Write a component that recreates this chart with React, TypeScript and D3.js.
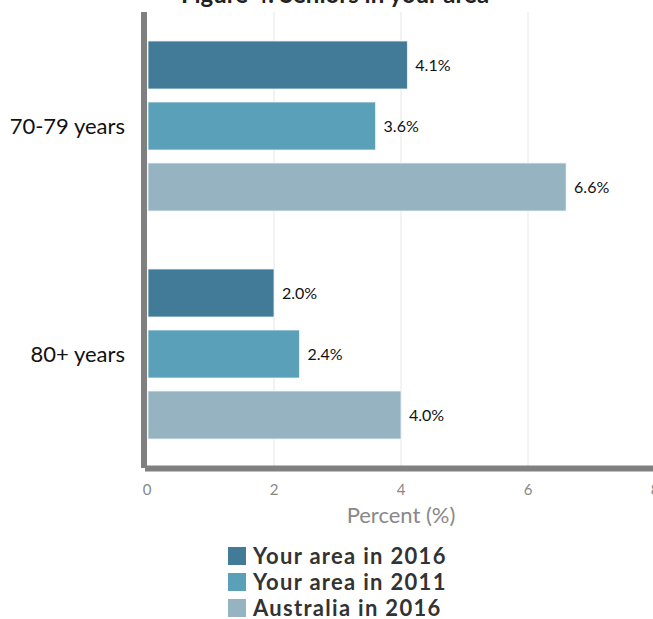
import React, { useEffect, useRef } from "react";
import * as d3 from "d3";

const categories = ["70-79 years", "80+ years"];
const seriesNames = ["Your area in 2016", "Your area in 2011", "Australia in 2016"];
const yourArea2016 = [4.1, 2.0];
const yourArea2011 = [3.6, 2.4];
const australia2016 = [6.6, 4.0];
const xTicks = [0, 2, 4, 6, 8];
const colors = ["#427b97", "#5ba0b9", "#95b3c1"];

export default function App() {
  const svgRef = useRef<SVGSVGElement | null>(null);
  const width = 653;
  const height = 619;

  useEffect(() => {
    if (!svgRef.current) return;
    const svg = d3.select(svgRef.current);
    svg.selectAll("*").remove();

    const font = "Lato, 'Open Sans', sans-serif";
    const series = [yourArea2016, yourArea2011, australia2016];

    const x = d3.scaleLinear().domain([0, 8]).range([147, 655]);
    const y0 = d3.scaleBand<string>().domain(categories).range([41, 439]).paddingInner(58 / 228).paddingOuter(0);
    const y1 = d3.scaleBand<number>().domain([0, 1, 2]).range([0, y0.bandwidth()]).paddingInner(13 / 61).paddingOuter(0);

    // title (partly cut off at top)
    svg.append("text")
      .attr("x", 335)
      .attr("y", 3)
      .attr("text-anchor", "middle")
      .attr("font-family", font)
      .attr("font-weight", 700)
      .attr("font-size", 24)
      .attr("fill", "#222")
      .text("Figure 4: Seniors in your area");

    // grid
    svg.append("g")
      .selectAll("line")
      .data(xTicks.slice(1))
      .join("line")
      .attr("x1", (d) => x(d))
      .attr("x2", (d) => x(d))
      .attr("y1", 12)
      .attr("y2", 466)
      .attr("stroke", "#e6e6e6")
      .attr("stroke-width", 1);

    // bars
    categories.forEach((cat, ci) => {
      const g = svg.append("g").attr("transform", `translate(0,${y0(cat)})`);
      series.forEach((vals, si) => {
        g.append("rect")
          .attr("x", x(0) + 1)
          .attr("y", y1(si)!)
          .attr("width", x(vals[ci]) - x(0) - 1)
          .attr("height", y1.bandwidth())
          .attr("fill", colors[si])
          .attr("stroke", "#eef4f7")
          .attr("stroke-width", 0.8);
        g.append("text")
          .attr("x", x(vals[ci]) + 8)
          .attr("y", y1(si)! + y1.bandwidth() / 2)
          .attr("dy", "0.35em")
          .attr("font-family", font)
          .attr("font-size", 16)
          .attr("fill", "#111")
          .text(`${vals[ci].toFixed(1)}%`);
      });
      svg.append("text")
        .attr("x", 125)
        .attr("y", y0(cat)! + y0.bandwidth() / 2)
        .attr("dy", "0.35em")
        .attr("text-anchor", "end")
        .attr("font-family", font)
        .attr("font-size", 22)
        .attr("fill", "#111")
        .text(cat);
    });

    // axis lines
    svg.append("line")
      .attr("x1", 144).attr("x2", 144)
      .attr("y1", 12).attr("y2", 468)
      .attr("stroke", "#808080").attr("stroke-width", 6);
    svg.append("line")
      .attr("x1", 145).attr("x2", 653)
      .attr("y1", 468.5).attr("y2", 468.5)
      .attr("stroke", "#808080").attr("stroke-width", 6);

    // tick labels
    svg.append("g")
      .selectAll("text")
      .data(xTicks)
      .join("text")
      .attr("x", (d) => x(d))
      .attr("y", 495)
      .attr("text-anchor", "middle")
      .attr("font-family", font)
      .attr("font-size", 15)
      .attr("fill", "#888")
      .text((d) => String(d));

    svg.append("text")
      .attr("x", x(4))
      .attr("y", 523)
      .attr("text-anchor", "middle")
      .attr("font-family", font)
      .attr("font-size", 22)
      .attr("fill", "#888")
      .text("Percent (%)");

    // legend
    const lg = svg.append("g");
    seriesNames.forEach((name, i) => {
      const ly = 556 + i * 26;
      lg.append("rect")
        .attr("x", 228)
        .attr("y", ly - 9)
        .attr("width", 18)
        .attr("height", 18)
        .attr("fill", colors[i]);
      lg.append("text")
        .attr("x", 253)
        .attr("y", ly)
        .attr("dy", "0.35em")
        .attr("font-family", font)
        .attr("font-weight", 700)
        .attr("font-size", 22)
        .attr("letter-spacing", 1.3)
        .attr("fill", "#333")
        .text(name);
    });
  }, []);

  return (
    <svg
      ref={svgRef}
      width={width}
      height={height}
      style={{ position: "absolute", left: 0, top: 0, background: "#fff" }}
    />
  );
}
